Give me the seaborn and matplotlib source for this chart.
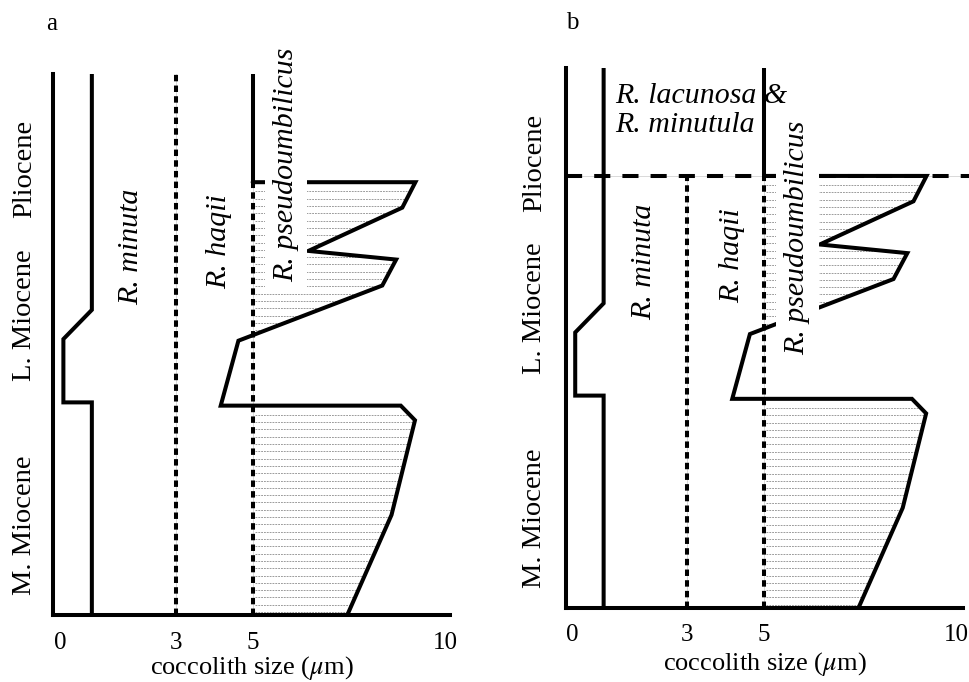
import numpy as np
import pandas as pd
import matplotlib
matplotlib.use("Agg")
import matplotlib.pyplot as plt
import seaborn as sns

sns.set_style("white")
plt.rcParams['font.family'] = ['Liberation Serif', 'DejaVu Serif']
plt.rcParams['mathtext.fontset'] = 'stix'
plt.rcParams['text.color'] = 'black'
plt.rcParams['axes.labelcolor'] = 'black'
plt.rcParams['xtick.color'] = 'black'
plt.rcParams['xtick.labelcolor'] = 'black'

# ---------------- data ----------------
size_ticks = [0, 3, 5, 10]
epochs = ["Pliocene", "L. Miocene", "M. Miocene"]
epoch_y = [82.5, 55.5, 16.5]          # relative stratigraphic position (0 = base, 100 = top)
plio_boundary = 80.0

# R. minuta upper size limit
minuta_x = [0.82, 0.82, 0.08, 0.08, 0.82, 0.82]
minuta_y = [100, 56.4, 51.0, 39.3, 39.3, 0]

# R. minuta / R. haqii boundary (3 um) and R. haqii / R. pseudoumbilicus boundary (5 um)
haqii_min = 3.0
pseudo_min = 5.0

# R. lacunosa & R. minutula (Pliocene, 5 um limit)
lac_x = [5.0, 5.0]
lac_y = [100, 80]

# R. pseudoumbilicus upper size outline
pseudo_x = [5.0, 9.23, 8.89, 6.45, 8.73, 8.37, 4.63, 4.17, 8.85, 9.22, 8.61, 7.46]
pseudo_y = [80.0, 80.0, 75.3, 67.3, 65.7, 60.9, 50.7, 38.7, 38.7, 36.0, 18.5, 0.0]

LW = 2.9
W, H = 969, 682
fig = plt.figure(figsize=(W / 100, H / 100), dpi=100)


def add_ax(l, r, t, b):
    return fig.add_axes([l / W, 1 - b / H, (r - l) / W, (b - t) / H])


def hatch(ax, xs, ys, step=1.35, first=1.7):
    xs = np.asarray(xs)[::-1]
    ys = np.asarray(ys)[::-1]
    yy = np.arange(ys.max() - first, ys.min(), -step)
    xr = np.interp(yy, ys, xs)
    keep = xr > pseudo_min + 0.1
    ax.hlines(yy[keep], pseudo_min + 0.05, xr[keep], colors='0.55', lw=0.6,
              linestyles=(0, (2.2, 1.2)), zorder=1)


def panel(ax, xlim, letter, lx, letter_px, panel_b, labelpad):
    ax.set_xlim(*xlim)
    ax.set_ylim(0, 100)
    # faint guide lines under the dashed ones
    ax.plot([haqii_min, haqii_min], [0, 80 if panel_b else 100], color='0.85', lw=0.7, zorder=1)
    ax.plot([pseudo_min, pseudo_min], [0, 80], color='0.85', lw=0.7, zorder=1)
    # hatching inside R. pseudoumbilicus field
    hatch(ax, pseudo_x[1:7], pseudo_y[1:7])
    hatch(ax, pseudo_x[8:12], pseudo_y[8:12])
    sns.lineplot(x=minuta_x, y=minuta_y, sort=False, estimator=None, color='black',
                 lw=LW, ax=ax, solid_joinstyle='miter')
    sns.lineplot(x=lac_x, y=lac_y, sort=False, estimator=None, color='black', lw=LW, ax=ax)
    sns.lineplot(x=pseudo_x, y=pseudo_y, sort=False, estimator=None, color='black',
                 lw=LW, ax=ax, solid_joinstyle='miter')
    ax.plot([haqii_min, haqii_min], [0, 80 if panel_b else 100], color='black', lw=LW,
            linestyle=(0, (1.6, 1.05)), zorder=2)
    ax.plot([pseudo_min, pseudo_min], [0, 80], color='black', lw=LW,
            linestyle=(0, (1.6, 1.05)), zorder=2)
    if panel_b:
        ax.plot([xlim[0], 10.45], [plio_boundary, plio_boundary], color='0.85', lw=0.7,
                zorder=1, clip_on=False)
        ax.plot([xlim[0], 10.45], [plio_boundary, plio_boundary], color='black', lw=LW,
                linestyle=(0, (4.0, 3.0)), zorder=2, clip_on=False)
    for s in ['top', 'right']:
        ax.spines[s].set_visible(False)
    for s in ['left', 'bottom']:
        ax.spines[s].set_linewidth(LW)
        ax.spines[s].set_color('black')
    ax.set_xticks(size_ticks)
    ax.set_xticklabels([str(t) for t in size_ticks], fontsize=18)
    ax.set_yticks([])
    ax.tick_params(axis='x', length=0, pad=12)
    ax.set_xlabel(r'coccolith size ($\mu$m)', fontsize=19, labelpad=labelpad)
    ax.set_ylabel('')
    tr = ax.get_yaxis_transform()
    for e, y in zip(epochs, epoch_y):
        ax.text(lx, y, e, rotation=90, ha='center', va='center', fontsize=20.5,
                transform=tr, clip_on=False)
    fig.text(letter_px[0] / W, 1 - letter_px[1] / H, letter, fontsize=18,
             ha='center', va='center')


axa = add_ax(53, 450, 74, 615)
axb = add_ax(566, 963, 68, 607.7)
panel(axa, (-0.19, 10.13), 'a', -0.072, (52, 24), False, 0.5)
panel(axb, (-0.16, 10.18), 'b', -0.08, (572, 23), True, 2.5)

ital = dict(rotation=90, ha='center', va='center', fontsize=21.5, style='italic')
box = dict(facecolor='white', edgecolor='none', pad=6)
# panel a labels
axa.text(1.83, 68.0, 'R. minuta', **ital)
axa.text(4.14, 69.1, 'R. haqii', **ital)
axa.text(5.87, 83.2, 'R. pseudoumbilicus', bbox=box, zorder=5, **ital)
# panel b labels
axb.text(1.88, 64.0, 'R. minuta', **ital)
axb.text(4.16, 65.3, 'R. haqii', **ital)
axb.text(5.87, 68.6, 'R. pseudoumbilicus', bbox=box, zorder=5, **ital)
axb.text(1.12, 92.1, 'R. lacunosa &\nR. minutula', ha='left', va='center',
         fontsize=21.5, style='italic', linespacing=1.15)

fig.savefig('out.png', dpi=100)
